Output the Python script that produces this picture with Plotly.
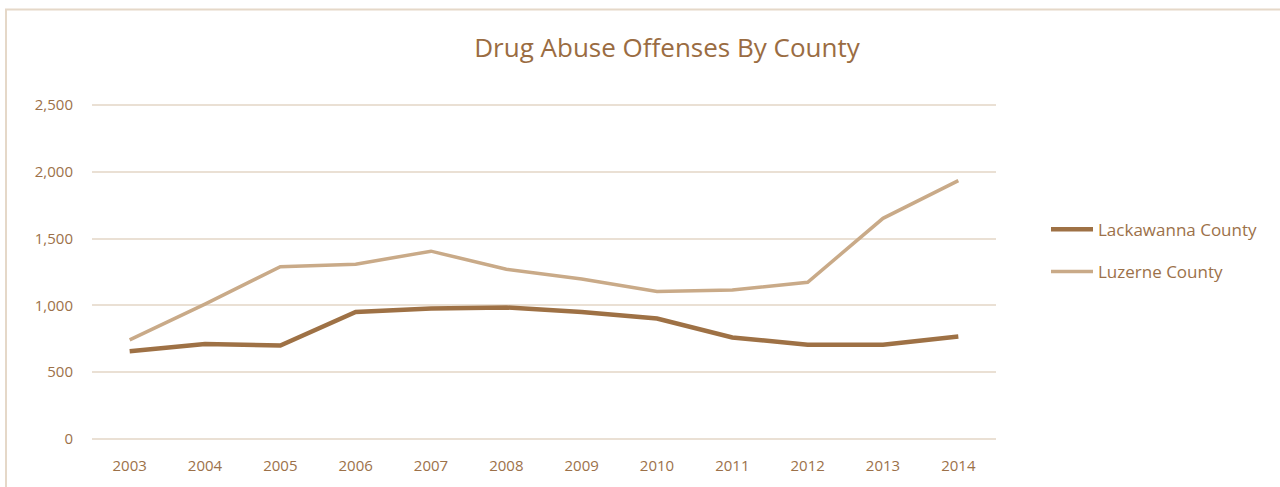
import plotly.graph_objects as go

# Yearly drug abuse offenses for two Pennsylvania counties
years = ["2003", "2004", "2005", "2006", "2007", "2008",
         "2009", "2010", "2011", "2012", "2013", "2014"]
lackawanna = [656, 710, 700, 951, 976, 984, 951, 902, 760, 706, 706, 767]
luzerne = [742, 1010, 1290, 1308, 1406, 1271, 1197, 1104, 1115, 1173, 1652, 1934]

y_ticks = [0, 500, 1000, 1500, 2000, 2500]
y_tick_text = ["0", "500", "1,000", "1,500", "2,000", "2,500"]

TEXT = "#9c7149"
GRID = "#eae0d4"
FONT = "Open Sans"

fig = go.Figure()
fig.add_trace(go.Scatter(
    x=years, y=lackawanna, mode="lines", name="Lackawanna County",
    line=dict(color="#9e7145", width=4.5), legendgroup="a",
))
fig.add_trace(go.Scatter(
    x=years, y=luzerne, mode="lines", name="Luzerne County",
    line=dict(color="#c9aa88", width=3.5), legendgroup="b",
))

W, H = 1280, 487
PAD = 8  # small value padding so the 0 and 2,500 gridlines are drawn
scale = 339 / 2500
L, R = 92, 284
T = round(105 - PAD * scale)
B = round(487 - 444 - PAD * scale)
pw, ph = W - L - R, H - T - B

# outer chart frame (left and top edges visible)
fx = (6 - L) / pw
fy = (H - B - 8) / ph
fig.add_shape(type="path", xref="paper", yref="paper",
              path=f"M {fx},-0.3 L {fx},{fy} L 1.35,{fy}",
              line=dict(color="#e5d8c8", width=2))

fig.update_layout(
    width=W, height=H,
    margin=dict(l=L, r=R, t=T, b=B),
    paper_bgcolor="white", plot_bgcolor="white",
    title=dict(text="Drug Abuse Offenses By County", x=667 / W, xanchor="center",
               y=1 - 48 / H, yanchor="middle", yref="container",
               font=dict(family=FONT, size=26, color="#9a6c42")),
    font=dict(family=FONT, size=15, color=TEXT),
    legend=dict(x=(1046 - L) / pw, xanchor="left", y=(H - B - 253) / ph, yanchor="middle",
                tracegroupgap=17, itemwidth=42, font=dict(size=17, color=TEXT),
                bgcolor="rgba(0,0,0,0)"),
    showlegend=True,
)
fig.update_xaxes(
    type="category", range=[-0.5, 11.5], showgrid=False, showline=False, zeroline=False,
    ticks="outside", ticklen=12, tickcolor="rgba(0,0,0,0)",
    tickfont=dict(family=FONT, size=15, color=TEXT),
)
fig.update_yaxes(
    range=[-PAD, 2500 + PAD], tickvals=y_ticks, ticktext=y_tick_text,
    showgrid=True, gridcolor=GRID, gridwidth=2, zeroline=False, showline=False,
    ticks="outside", ticklen=15, tickcolor="rgba(0,0,0,0)",
    tickfont=dict(family=FONT, size=15, color=TEXT),
)

fig.write_html("out.html")
